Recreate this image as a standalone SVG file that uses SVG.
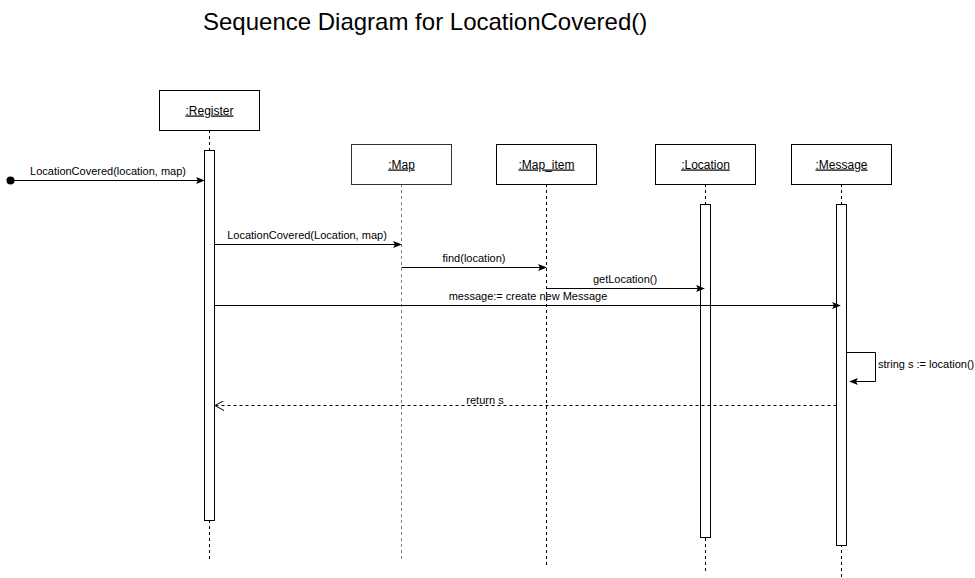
<svg xmlns="http://www.w3.org/2000/svg" width="975" height="578" viewBox="0 0 975 578">
<style>
text{font-family:"Liberation Sans",Arial,sans-serif;fill:#000}
.lbl{font-size:11px;text-anchor:middle}
.name{font-size:12px;text-anchor:middle;text-decoration:underline}
.box{fill:#fff;stroke:#000;stroke-width:1}
.act{fill:#fff;stroke:#000;stroke-width:1}
.life{stroke:#000;stroke-width:1;stroke-dasharray:3,3;fill:none}
.lifeg{stroke:#808080;stroke-width:1;stroke-dasharray:3,3;fill:none}
.msg{stroke:#000;stroke-width:1;fill:none;marker-end:url(#block)}
.ret{stroke:#000;stroke-width:1;fill:none;stroke-dasharray:3,3;marker-end:url(#open)}
</style>
<defs>
<marker id="block" viewBox="0 0 10 8" refX="9" refY="4" markerWidth="9" markerHeight="7" markerUnits="userSpaceOnUse" orient="auto">
<path d="M0,0 L10,4 L0,8 L2,4 Z" fill="#000"/>
</marker>
<marker id="open" viewBox="0 0 10 10" refX="9" refY="5" markerWidth="10" markerHeight="10" markerUnits="userSpaceOnUse" orient="auto">
<path d="M0,0 L9,5 L0,10" fill="none" stroke="#000" stroke-width="1"/>
</marker>
</defs>
<rect width="975" height="578" fill="#fff"/>
<text x="203" y="30" style="font-size:24px">Sequence Diagram for LocationCovered()</text>

<g id="register">
<line class="life" x1="209.5" y1="130" x2="209.5" y2="559"/>
<rect class="box" x="159.5" y="90.5" width="100" height="40"/>
<text class="name" x="209.5" y="114.5">:Register</text>
<rect class="act" x="204.5" y="150.5" width="10" height="370"/>
</g>
<g id="map">
<line class="lifeg" x1="401.5" y1="184" x2="401.5" y2="559"/>
<rect class="box" x="351.5" y="144.5" width="100" height="40" style="stroke:#333"/>
<text class="name" x="401.5" y="168.5">:Map</text>
</g>
<g id="map_item">
<line class="life" x1="546.5" y1="184" x2="546.5" y2="565"/>
<rect class="box" x="496.5" y="144.5" width="100" height="40"/>
<text class="name" x="546.5" y="168.5">:Map_item</text>
</g>
<g id="location">
<line class="life" x1="705.5" y1="184" x2="705.5" y2="572"/>
<rect class="box" x="655.5" y="144.5" width="100" height="40"/>
<text class="name" x="705.5" y="168.5">:Location</text>
<rect class="act" x="700.5" y="204.5" width="10" height="333"/>
</g>
<g id="message">
<line class="life" x1="841.5" y1="184" x2="841.5" y2="578"/>
<rect class="box" x="791.5" y="144.5" width="100" height="40"/>
<text class="name" x="841.5" y="168.5">:Message</text>
<rect class="act" x="836.5" y="204.5" width="10" height="341"/>
</g>

<g id="connectors">
<circle cx="10.5" cy="180.5" r="4" fill="#000"/>
<line class="msg" x1="10.5" y1="180.5" x2="204" y2="180.5"/>
<text class="lbl" x="108" y="175">LocationCovered(location, map)</text>

<line class="msg" x1="214.5" y1="244.5" x2="401" y2="244.5"/>
<text class="lbl" x="307" y="239">LocationCovered(Location, map)</text>

<line class="msg" x1="401.5" y1="267.5" x2="546" y2="267.5"/>
<text class="lbl" x="474" y="262">find(location)</text>

<line class="msg" x1="546.5" y1="288.5" x2="704" y2="288.5"/>
<text class="lbl" x="625" y="283">getLocation()</text>

<line class="msg" x1="214.5" y1="305.5" x2="840" y2="305.5"/>
<text class="lbl" x="528" y="300">message:= create new Message</text>

<path class="msg" d="M846.5,352.5 L875.5,352.5 L875.5,381.5 L850,381.5"/>
<text x="878" y="368" style="font-size:11px">string s := location()</text>

<line class="ret" x1="836.5" y1="405.5" x2="215" y2="405.5"/>
<rect x="464" y="395" width="42" height="9" fill="#fff"/>
<text class="lbl" x="485" y="404">return s</text>
</g>
</svg>
